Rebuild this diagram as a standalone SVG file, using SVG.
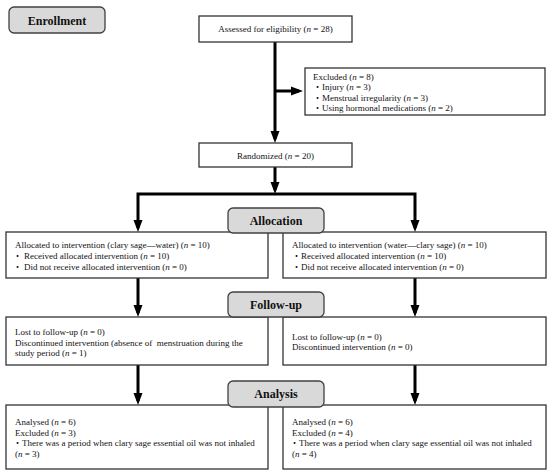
<svg xmlns="http://www.w3.org/2000/svg" width="550" height="475" viewBox="0 0 550 475">
<defs>
<style>
.box{fill:#fff;stroke:#333;stroke-width:1.3}
.lbl{fill:#d9d9d9;stroke:#404040;stroke-width:1.3}
.t{font-family:"Liberation Serif","Times New Roman","Noto Sans CJK JP",serif;font-size:9px;fill:#111}
.h{font-family:"Liberation Serif","Times New Roman",serif;font-size:12px;font-weight:bold;fill:#111}
.c{stroke:#000;stroke-width:3;fill:none}
</style>
<marker id="ah" markerUnits="userSpaceOnUse" markerWidth="13" markerHeight="10" viewBox="0 0 13 10" refX="8" refY="5" orient="auto">
<path d="M0,0.5 L12,5 L0,9.5 z" fill="#000"/>
</marker>
</defs>
<rect width="550" height="475" fill="#fff"/>
<g id="connectors">
<path class="c" d="M275,42 V139" marker-end="url(#ah)"/>
<path class="c" d="M275,91 H299" marker-end="url(#ah)"/>
<path class="c" d="M275,167 V190" marker-end="url(#ah)"/>
<path class="c" d="M275,194 H138 V228" marker-end="url(#ah)"/>
<path class="c" d="M275,194 H415 V228" marker-end="url(#ah)"/>
<path class="c" d="M138,278 V313" marker-end="url(#ah)"/>
<path class="c" d="M415,278 V313" marker-end="url(#ah)"/>
<path class="c" d="M138,365 V401" marker-end="url(#ah)"/>
<path class="c" d="M415,365 V401" marker-end="url(#ah)"/>
</g>
<g id="enrollment">
<rect class="lbl" x="9" y="7" width="96" height="26" rx="5"/>
<text class="h" x="57" y="25" text-anchor="middle">Enrollment</text>
</g>
<g id="assessed">
<rect class="box" x="199" y="16" width="153" height="26"/>
<text class="t" x="275.5" y="32" text-anchor="middle">Assessed for eligibility (<tspan font-style="italic">n</tspan> = 28)</text>
</g>
<g id="excluded">
<rect class="box" x="305" y="68" width="240" height="47"/>
<text class="t" x="313" y="79.5">Excluded (<tspan font-style="italic">n</tspan> = 8)</text>
<text class="t" y="90"><tspan x="313">・</tspan><tspan x="322">Injury (</tspan><tspan font-style="italic">n</tspan> = 3)</text>
<text class="t" y="100.5"><tspan x="313">・</tspan><tspan x="322">Menstrual irregularity (</tspan><tspan font-style="italic">n</tspan> = 3)</text>
<text class="t" y="111"><tspan x="313">・</tspan><tspan x="322">Using hormonal medications (</tspan><tspan font-style="italic">n</tspan> = 2)</text>
</g>
<g id="randomized">
<rect class="box" x="199" y="143" width="153" height="24"/>
<text class="t" x="275.5" y="158.5" text-anchor="middle">Randomized (<tspan font-style="italic">n</tspan> = 20)</text>
</g>
<g id="alloc-left">
<rect class="box" x="6" y="232" width="262" height="46"/>
<text class="t" x="15" y="248">Allocated to intervention (clary sage—water) (<tspan font-style="italic">n</tspan> = 10)</text>
<text class="t" y="259"><tspan x="13">・</tspan><tspan x="24">Received allocated intervention (</tspan><tspan font-style="italic">n</tspan> = 10)</text>
<text class="t" y="270"><tspan x="13">・</tspan><tspan x="24">Did not receive allocated intervention (</tspan><tspan font-style="italic">n</tspan> = 0)</text>
</g>
<g id="alloc-right">
<rect class="box" x="283" y="232" width="263" height="46"/>
<text class="t" x="292" y="248">Allocated to intervention (water—clary sage) (<tspan font-style="italic">n</tspan> = 10)</text>
<text class="t" y="259"><tspan x="292">・</tspan><tspan x="301">Received allocated intervention (</tspan><tspan font-style="italic">n</tspan> = 10)</text>
<text class="t" y="270"><tspan x="292">・</tspan><tspan x="301">Did not receive allocated intervention (</tspan><tspan font-style="italic">n</tspan> = 0)</text>
</g>
<g id="allocation">
<rect class="lbl" x="228" y="208" width="96" height="25" rx="5"/>
<text class="h" x="276" y="225" text-anchor="middle">Allocation</text>
</g>
<g id="follow-left">
<rect class="box" x="6" y="317" width="262" height="48"/>
<text class="t" x="15" y="335">Lost to follow-up (<tspan font-style="italic">n</tspan> = 0)</text>
<text class="t" x="15" y="345.5" xml:space="preserve">Discontinued intervention (absence of  menstruation during the</text>
<text class="t" x="15" y="356">study period (<tspan font-style="italic">n</tspan> = 1)</text>
</g>
<g id="follow-right">
<rect class="box" x="283" y="317" width="263" height="48"/>
<text class="t" x="292" y="339.5">Lost to follow-up (<tspan font-style="italic">n</tspan> = 0)</text>
<text class="t" x="292" y="350">Discontinued intervention (<tspan font-style="italic">n</tspan> = 0)</text>
</g>
<g id="follow-up">
<rect class="lbl" x="228" y="292" width="96" height="25" rx="5"/>
<text class="h" x="276" y="309" text-anchor="middle">Follow-up</text>
</g>
<g id="analysis-left">
<rect class="box" x="6" y="405" width="262" height="64"/>
<text class="t" x="15" y="425">Analysed (<tspan font-style="italic">n</tspan> = 6)</text>
<text class="t" x="15" y="435.5">Excluded (<tspan font-style="italic">n</tspan> = 3)</text>
<text class="t" y="446"><tspan x="13">・</tspan><tspan x="22">There was a period when clary sage essential oil was not inhaled</tspan></text>
<text class="t" x="15" y="456.5">(<tspan font-style="italic">n</tspan> = 3)</text>
</g>
<g id="analysis-right">
<rect class="box" x="283" y="405" width="263" height="64"/>
<text class="t" x="292" y="425">Analysed (<tspan font-style="italic">n</tspan> = 6)</text>
<text class="t" x="292" y="435.5">Excluded (<tspan font-style="italic">n</tspan> = 4)</text>
<text class="t" y="446"><tspan x="290">・</tspan><tspan x="299">There was a period when clary sage essential oil was not inhaled</tspan></text>
<text class="t" x="292" y="456.5">(<tspan font-style="italic">n</tspan> = 4)</text>
</g>
<g id="analysis">
<rect class="lbl" x="228" y="381" width="96" height="26" rx="5"/>
<text class="h" x="276" y="398" text-anchor="middle">Analysis</text>
</g>
</svg>
